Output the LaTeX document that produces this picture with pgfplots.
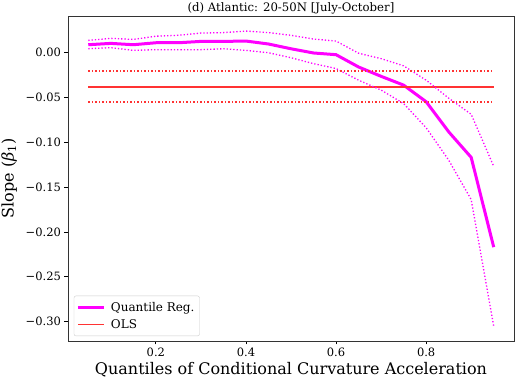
\documentclass[border=0pt]{standalone}
\usepackage{pgfplots}
\usepackage{fontspec}
\setmainfont{DejaVu Serif}
\pgfplotsset{compat=1.18}
\definecolor{qmag}{RGB}{255,0,255}
\definecolor{olsred}{RGB}{255,51,51}

\pgfplotstableread{
q     est      lo       hi
0.05  0.0085   0.0041   0.0133
0.10  0.0100   0.0052   0.0156
0.15  0.0085   0.0022   0.0144
0.20  0.0107   0.0030   0.0180
0.25  0.0107   0.0030   0.0190
0.30  0.0122   0.0030   0.0215
0.35  0.0122   0.0040   0.0220
0.40  0.0126   0.0022   0.0237
0.45  0.0093  -0.0004   0.0220
0.50  0.0040  -0.0060   0.0190
0.55 -0.0007  -0.0126   0.0148
0.60 -0.0026  -0.0180   0.0126
0.65 -0.0163  -0.0310  -0.0010
0.70 -0.0267  -0.0420  -0.0070
0.75 -0.0365  -0.0570  -0.0150
0.80 -0.0550  -0.0840  -0.0310
0.85 -0.0885  -0.1200  -0.0510
0.90 -0.1170  -0.1640  -0.0690
0.95 -0.2170  -0.3050  -0.1270
}\qrdata

\begin{document}
\begin{tikzpicture}
\begin{axis}[
  scale only axis,
  width=446pt, height=325pt,
  xmin=0.005, xmax=0.995,
  ymin=-0.3215, ymax=0.0405,
  xtick={0.2,0.4,0.6,0.8},
  xticklabels={0.2,0.4,0.6,0.8},
  ytick={0,-0.05,-0.10,-0.15,-0.20,-0.25,-0.30},
  yticklabels={0.00,−0.05,−0.10,−0.15,−0.20,−0.25,−0.30},
  tick align=outside,
  major tick length=3.5pt,
  tick style={black, line width=0.8pt},
  tick label style={font=\fontsize{11.5}{13}\selectfont},
  axis line style={line width=0.8pt, black!80},
  xtick pos=bottom, ytick pos=left,
  title={(d) Atlantic: 20-50N [July-October]},
  every axis title/.style={font=\fontsize{11.7}{13}\selectfont, at={(0.5,1)},
    anchor=south, inner sep=0pt, yshift=2pt},
  xlabel={Quantiles of Conditional Curvature Acceleration},
  ylabel={Slope (\textit{β}\textsubscript{1})},
  label style={font=\fontsize{16}{18}\selectfont},
  xlabel style={yshift=1pt},
  ylabel style={yshift=2pt},
  legend style={at={(0.013,0.015)}, anchor=south west,
    font=\fontsize{12}{15}\selectfont,
    draw=black!20, rounded corners=2pt, inner xsep=3pt, inner ysep=4pt,
    row sep=3pt, column sep=3pt,
    cells={anchor=west}},
  legend image code/.code={\draw[#1] (0pt,0pt) -- (26pt,0pt);},
]
\addplot[qmag, line width=3pt] table[x=q,y=est] {\qrdata};
\addlegendentry{Quantile Reg.}
\addplot[olsred, line width=1.5pt] coordinates {(0.05,-0.0385) (0.95,-0.0385)};
\addlegendentry{OLS}
\addplot[qmag, line width=1.3pt, dotted, forget plot] table[x=q,y=lo] {\qrdata};
\addplot[qmag, line width=1.3pt, dotted, forget plot] table[x=q,y=hi] {\qrdata};
\addplot[olsred, line width=1.5pt, dotted, forget plot] coordinates {(0.05,-0.0207) (0.95,-0.0207)};
\addplot[olsred, line width=1.5pt, dotted, forget plot] coordinates {(0.05,-0.0552) (0.95,-0.0552)};
\end{axis}
\pgfresetboundingbox
\path[use as bounding box] (-68pt,-42pt) rectangle (447pt,341pt);
\end{tikzpicture}
\end{document}
